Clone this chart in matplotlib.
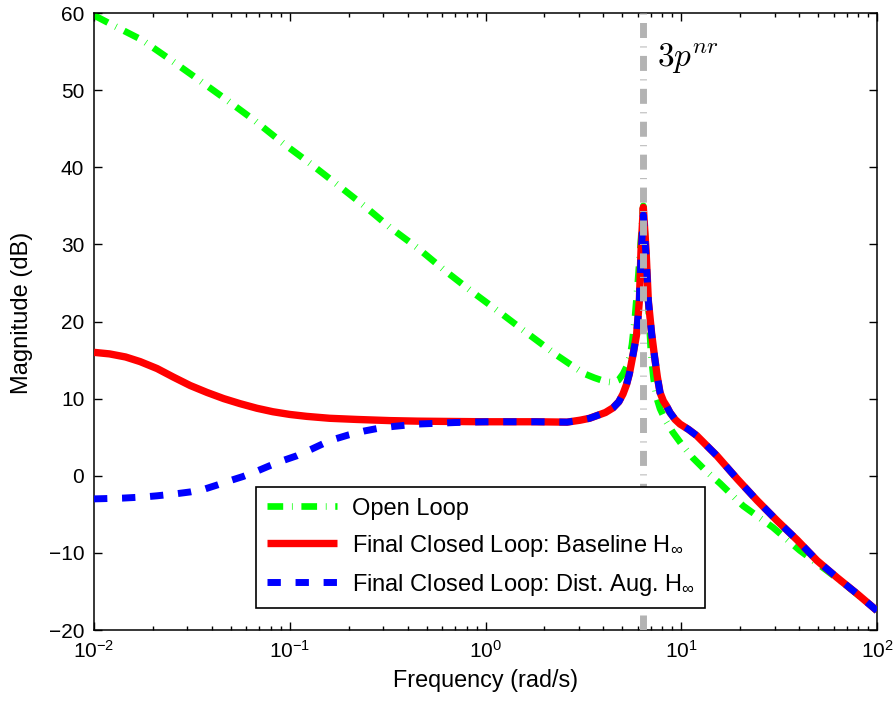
import matplotlib
matplotlib.use("Agg")
import matplotlib.pyplot as plt

# Open-loop magnitude response
freq_open = [0.01, 0.0121, 0.0176, 0.0244, 0.034, 0.0478, 0.0666, 0.0925, 0.127,
             0.174, 0.24, 0.325, 0.452, 0.62, 0.86, 1.21, 1.65, 2.32, 2.8, 3.22, 3.6,
             3.9, 4.2, 4.48, 4.78, 5.04, 5.27, 5.47, 5.6, 5.8, 6.01, 6.2, 6.4, 6.6,
             6.8, 7.0, 7.22, 7.49, 7.79, 8.3, 9.08, 10.1, 11.48, 13.4, 15.8, 20.7,
             29.4, 40.4, 55.5, 75.4, 100]
mag_open = [59.7, 58.6, 56.5, 54.0, 51.4, 48.7, 46.0, 43.1, 40.5,
            37.8, 35.0, 32.2, 29.5, 26.6, 23.8, 21.0, 18.4, 15.6, 14.2, 13.2, 12.7,
            12.4, 12.2, 12.1, 12.4, 13.2, 14.2, 15.5, 17.0, 20.5, 25.3, 30.0, 35.0, 29.0,
            22.0, 16.0, 12.6, 10.1, 8.7, 7.2, 5.6, 4.0, 2.3, 0.6, -1.0, -3.9,
            -6.7, -9.7, -12.3, -14.9, -17.5]

# Final closed loop, baseline H-infinity controller
freq_base = [0.01, 0.012, 0.0145, 0.0172, 0.021, 0.0254, 0.031, 0.0378, 0.046,
             0.0557, 0.068, 0.082, 0.1, 0.122, 0.16, 0.22, 0.325, 0.45, 0.6, 1.0,
             1.8, 2.61, 3.04, 3.4, 3.71, 4.1, 4.48, 4.8, 5.04, 5.25, 5.43, 5.7, 5.92,
             6.11, 6.23, 6.40, 6.61, 6.79, 7.06, 7.3, 7.55, 7.79, 8.1, 8.43, 8.76,
             9.3, 9.86, 10.9, 12.0, 13.5, 15.2, 19.3, 24.4, 30.8, 39.0, 49.4, 62.5,
             79.1, 100]
mag_base = [16.0, 15.8, 15.4, 14.8, 13.9, 12.8, 11.7, 10.8, 10.0,
            9.35, 8.75, 8.3, 7.95, 7.7, 7.45, 7.3, 7.15, 7.08, 7.05, 7.0,
            7.0, 6.95, 7.2, 7.45, 7.8, 8.2, 8.8, 9.6, 10.6, 11.8, 13.2, 16.0, 18.4,
            22.7, 29.2, 34.8, 29.2, 22.7, 18.4, 15.5, 12.8, 10.8, 9.7, 9.0, 8.2,
            7.3, 6.7, 6.0, 5.2, 3.9, 2.6, -0.4, -3.2, -5.8, -8.3, -11.0, -13.2,
            -15.3, -17.5]

# Final closed loop, disturbance-augmented H-infinity controller
freq_aug = [0.01, 0.014, 0.018, 0.021, 0.026, 0.031, 0.037, 0.0426, 0.05, 0.0577,
            0.068, 0.079, 0.093, 0.109, 0.128, 0.148, 0.172, 0.2, 0.24, 0.29, 0.34,
            0.45, 0.7, 1.0, 1.8, 2.61, 3.04, 3.4, 3.71, 4.1, 4.48, 4.8, 5.04, 5.25,
            5.43, 5.7, 5.92, 6.11, 6.23, 6.40, 6.61, 6.79, 7.06, 7.3, 7.55, 7.79,
            8.1, 8.43, 8.76, 9.3, 9.86, 10.9, 12.0, 13.5, 15.2, 19.3, 24.4, 30.8,
            39.0, 49.4, 62.5, 79.1, 100]
mag_aug = [-3.0, -2.9, -2.75, -2.6, -2.35, -2.1, -1.7, -1.2, -0.6, -0.1,
           0.6, 1.3, 2.0, 2.6, 3.4, 4.15, 4.8, 5.3, 5.8, 6.2, 6.4,
           6.7, 6.9, 7.0, 7.0, 6.95, 7.2, 7.45, 7.8, 8.2, 8.8, 9.6, 10.6, 11.8,
           13.2, 16.0, 18.4, 22.7, 28.5, 33.8, 28.5, 22.7, 18.4, 15.5, 12.8, 10.8,
           9.7, 9.0, 8.2, 7.3, 6.7, 6.0, 5.2, 3.9, 2.6, -0.4, -3.2, -5.8,
           -8.3, -11.0, -13.2, -15.3, -17.5]

f_3p = 6.4  # 3P rotor frequency (rad/s)

xticks = [1e-2, 1e-1, 1e0, 1e1, 1e2]
xtick_labels = [r'$\mathregular{10^{-2}}$', r'$\mathregular{10^{-1}}$',
                r'$\mathregular{10^{0}}$', r'$\mathregular{10^{1}}$',
                r'$\mathregular{10^{2}}$']
yticks = [-20, -10, 0, 10, 20, 30, 40, 50, 60]

labels = ['Open Loop',
          r'Final Closed Loop: Baseline H$_{\infty}$',
          r'Final Closed Loop: Dist. Aug. H$_{\infty}$']

plt.rcParams['font.family'] = ['Liberation Sans', 'DejaVu Sans']
plt.rcParams['mathtext.fontset'] = 'custom'
plt.rcParams['mathtext.rm'] = 'Liberation Sans'
plt.rcParams['mathtext.it'] = 'Liberation Sans:italic'
plt.rcParams['lines.scale_dashes'] = False

fig = plt.figure(figsize=(8.96, 7.02), dpi=100)
ax = fig.add_axes([94 / 896, 1 - 630 / 702, 783 / 896, 617 / 702])

green = '#00ff00'
l_open, = ax.plot(freq_open, mag_open, color=green, lw=4.8, zorder=2,
                  dash_capstyle='butt', solid_capstyle='butt',
                  dash_joinstyle='round')
l_open.set_dashes((11.3, 6.3, 0.5, 6.3))
l_base, = ax.plot(freq_base, mag_base, color='#ff0000', lw=5.3, zorder=3,
                  solid_joinstyle='round', solid_capstyle='butt')
l_aug, = ax.plot(freq_aug, mag_aug, color='#0000ff', lw=5.0, zorder=4,
                 dash_capstyle='butt', dash_joinstyle='round')
l_aug.set_dashes((9.6, 10.6))

vl = ax.axvline(f_3p, color='#b3b3b3', lw=5, zorder=4.5, dash_capstyle='butt')
vl.set_dashes((10.8, 6.1, 0.7, 6.1))

ax.text(7.52, 53.0, r'$3p^{nr}$', math_fontfamily='cm', fontsize=24,
        ha='left', va='baseline')

ax.set_xscale('log')
ax.set_xlim(1e-2, 1e2)
ax.set_ylim(-20, 60)
ax.set_xticks(xticks)
ax.set_xticklabels(xtick_labels)
ax.set_yticks(yticks)
ax.tick_params(axis='both', which='both', direction='in', top=True, right=True,
               labelsize=15, width=1.0)
ax.tick_params(axis='both', which='major', length=5.5)
ax.tick_params(axis='x', which='minor', length=2.8)
ax.tick_params(axis='x', which='major', pad=7)
ax.tick_params(axis='y', which='major', pad=7)
for sp in ax.spines.values():
    sp.set_linewidth(1.1)

ax.set_xlabel('Frequency (rad/s)', fontsize=16.8)
ax.set_ylabel('Magnitude (dB)', fontsize=17)
ax.xaxis.set_label_coords(0.5, -0.063)
ax.yaxis.set_label_coords(-0.078, 0.514)

leg = ax.legend([l_open, l_base, l_aug], labels, loc='upper left',
                bbox_to_anchor=(256 / 896, 1 - 487 / 702),
                bbox_transform=fig.transFigure, fontsize=17, fancybox=False,
                framealpha=1, edgecolor='black', handlelength=3.0,
                handletextpad=0.6, labelspacing=0.55, borderpad=0.45,
                borderaxespad=0)
leg.get_frame().set_linewidth(1.2)
leg.set_zorder(10)

fig.savefig('out.png', dpi=100)
